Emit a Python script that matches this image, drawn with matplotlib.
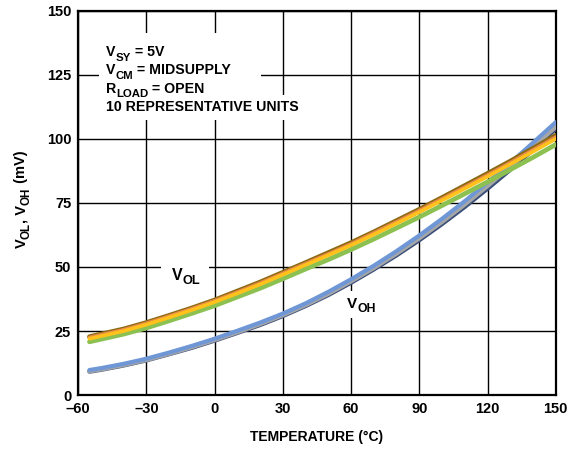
import matplotlib
matplotlib.use("Agg")
import matplotlib.pyplot as plt
from matplotlib.patches import Rectangle

plt.rcParams["font.family"] = ["Liberation Sans", "DejaVu Sans"]
plt.rcParams["font.weight"] = "bold"

# temperature points (deg C)
temp = [-55, -50, -40, -30, -20, -10, 0, 10, 20, 30, 40, 50,
        60, 70, 80, 90, 100, 110, 120, 130, 140, 150]

# V_OL per unit (mV)
vol_brown = [22.8, 23.8, 25.8, 28.3, 31.1, 34.0, 37.1, 40.6, 44.1, 47.9, 51.7,
             55.6, 59.5, 63.7, 68.1, 72.5, 77.1, 81.8, 86.5, 91.3, 96.3, 101.4]
vol_orange = [22.4, 23.4, 25.4, 27.9, 30.7, 33.6, 36.7, 40.1, 43.6, 47.4, 51.2,
              55.0, 58.9, 63.2, 67.5, 71.9, 76.5, 81.1, 85.8, 90.6, 95.6, 100.6]
vol_yellow = [22.0, 23.0, 25.0, 27.5, 30.3, 33.2, 36.3, 39.7, 43.2, 47.0, 50.8,
              54.6, 58.5, 62.7, 67.0, 71.4, 76.0, 80.6, 85.3, 90.1, 95.0, 100.0]
vol_green = [20.8, 21.8, 23.8, 26.2, 29.0, 31.9, 34.9, 38.3, 41.7, 45.4, 49.2,
             52.9, 56.8, 60.9, 65.2, 69.5, 74.0, 78.6, 83.2, 88.0, 92.8, 97.8]

# V_OH per unit (mV)
voh_dark = [9.2, 9.9, 11.6, 13.6, 16.0, 18.5, 21.3, 24.3, 27.4, 30.9, 34.8,
            39.1, 43.9, 49.1, 54.6, 60.5, 66.8, 73.5, 80.6, 88.0, 95.8, 104.0]
voh_grey = [9.4, 10.1, 11.8, 13.8, 16.2, 18.8, 21.6, 24.6, 27.8, 31.3, 35.2,
            39.6, 44.5, 49.7, 55.3, 61.3, 67.7, 74.5, 81.7, 89.2, 97.0, 104.8]
voh_blue = [9.8, 10.5, 12.2, 14.2, 16.6, 19.2, 22.0, 25.1, 28.3, 31.8, 35.8,
            40.3, 45.2, 50.5, 56.2, 62.3, 68.8, 75.7, 83.0, 90.6, 98.5, 106.5]

x_ticks = [-60, -30, 0, 30, 60, 90, 120, 150]
y_ticks = [0, 25, 50, 75, 100, 125, 150]


def sub_text(ax, x, y, parts, size=10.2, transform=None, rotation=0):
    """parts: list of (text, is_subscript); first part is normal text."""
    subsize, drop = size * 0.8, -0.25 * size
    kw = dict(fontweight="bold", zorder=4)
    transform = transform or ax.transData
    if rotation:
        t = ax.text(x, y, parts[0][0], fontsize=size, rotation=90, ha="right",
                    va="bottom", transform=transform, clip_on=False, **kw)
    else:
        t = ax.text(x, y, parts[0][0], fontsize=size, ha="left", va="bottom",
                    transform=transform, clip_on=False, **kw)
    prev = t
    for s, sub in parts[1:]:
        fs = subsize if sub else size
        if rotation:
            prev = ax.annotate(s, xy=(1, 1), xycoords=(t, prev),
                               xytext=(-drop if sub else 0, 0),
                               textcoords="offset points", fontsize=fs,
                               rotation=90, ha="right", va="bottom",
                               annotation_clip=False, **kw)
        else:
            prev = ax.annotate(s, xy=(1, 0), xycoords=(prev, t),
                               xytext=(0, drop if sub else 0),
                               textcoords="offset points", fontsize=fs,
                               ha="left", va="bottom", annotation_clip=False,
                               **kw)
    return t


fig = plt.figure(figsize=(5.7, 4.5), dpi=100)
ax = fig.add_axes([0.137, 0.122, 0.838, 0.854])

for ys, c, lw in ((voh_dark, "#3a4f7a", 3.2), (voh_grey, "#a6a6a6", 3.4),
                  (voh_blue, "#6f97d6", 3.0)):
    ax.plot(temp, ys, color=c, lw=lw, solid_capstyle="round", zorder=3)

for ys, c, lw in ((vol_green, "#8cc152", 3.4), (vol_brown, "#8a6a10", 3.4),
                  (vol_orange, "#e8894a", 3.0), (vol_yellow, "#ffc21a", 2.6)):
    ax.plot(temp, ys, color=c, lw=lw, solid_capstyle="round", zorder=3)

ax.set_xlim(-60, 150)
ax.set_ylim(0, 150)
ax.set_xticks(x_ticks)
ax.set_xticklabels([f"{v}".replace("-", "\u2013") for v in x_ticks])
ax.set_yticks(y_ticks)
ax.tick_params(length=0, labelsize=10.5, pad=5)
for lbl in ax.get_xticklabels() + ax.get_yticklabels():
    lbl.set_fontweight("bold")
ax.grid(True, color="black", lw=1.0)
ax.set_axisbelow(True)
for s in ax.spines.values():
    s.set_linewidth(1.6)

ax.set_xlabel("TEMPERATURE (\u00b0C)", fontsize=10, fontweight="bold", labelpad=10)

# y label with subscripts, rotated
sub_text(ax, 0.05, 0.448, [("V", False), ("OL", True), (", V", False),
                           ("OH", True), (" (mV)", False)],
         size=10.5, transform=fig.transFigure, rotation=90)

# white backgrounds that break the grid behind the labels
ax.add_patch(Rectangle((-50.8, 107.4), 71.2, 34.0, facecolor="white",
                       edgecolor="none", zorder=2))
ax.add_patch(Rectangle((20.0, 107.4), 17.5, 9.8, facecolor="white",
                       edgecolor="none", zorder=2))
ax.add_patch(Rectangle((-23.5, 47.5), 21.1, 5.0, facecolor="white",
                       edgecolor="none", zorder=2))
ax.add_patch(Rectangle((58.0, 30.0), 4.0, 10.5, facecolor="white",
                       edgecolor="none", zorder=2))

notes = [[("V", False), ("SY", True), (" = 5V", False)],
         [("V", False), ("CM", True), (" = MIDSUPPLY", False)],
         [("R", False), ("LOAD", True), (" = OPEN", False)],
         [("10 REPRESENTATIVE UNITS", False)]]
for i, parts in enumerate(notes):
    sub_text(ax, -47.8, 131.2 - 7.2 * i, parts)

sub_text(ax, -18.7, 43.6, [("V", False), ("OL", True)], size=11.5)
sub_text(ax, 58.2, 32.8, [("V", False), ("OH", True)], size=11)

fig.savefig("out.png", dpi=100)
